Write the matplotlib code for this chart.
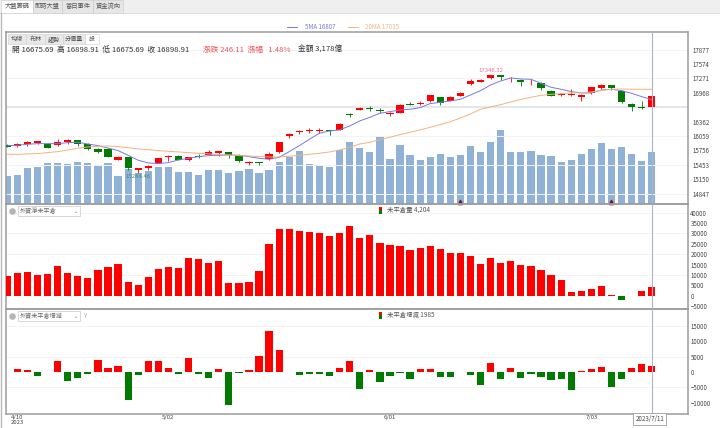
import matplotlib
matplotlib.use("Agg")
import matplotlib.pyplot as plt
from matplotlib.patches import Rectangle

plt.rcParams['font.family'] = ['Noto Sans CJK TC', 'DejaVu Sans']

opens = [15872,15858,15893,15921,15900,15872,15935,15971,15886,15788,15788,15564,15613,15353,15395,15494,15613,15641,15564,15641,15669,15711,15718,15669,15494,15508,15571,15718,16062,16146,16167,16174,16188,16188,16518,16616,16658,16616,16518,16546,16742,16728,16791,16875,16798,16910,17149,17205,17275,17338,17254,17240,17191,17177,17015,16924,16931,16889,16966,17072,17128,17015,16742,16672,16675.69]
closes = [15837,15886,15928,15949,15816,15942,15971,15893,15795,15725,15620,15627,15395,15381,15430,15592,15641,15564,15613,15627,15718,15739,15662,15529,15515,15487,15676,15935,16111,16174,16188,16195,16167,16307,16504,16658,16637,16595,16539,16707,16721,16763,16917,16756,16889,16959,17219,17247,17338,17303,17268,17205,17205,17072,16903,16945,16952,16924,17086,17142,17072,16770,16679,16658,16898.91]
highs = [15886,15921,15949,15964,15907,15992,15992,15978,15921,15802,15802,15641,15627,15395,15451,15599,15662,15655,15627,15683,15760,15753,15725,15683,15543,15515,15718,15942,16132,16188,16223,16237,16195,16328,16553,16679,16686,16644,16567,16742,16777,16791,16924,16889,16903,16994,17268,17268,17346.32,17344,17310,17254,17254,17198,17029,16966,17058,16945,17100,17163,17142,17029,16756,16791,16898.91]
lows = [15823,15837,15851,15886,15809,15858,15900,15858,15767,15697,15613,15550,15346,15284.46,15339,15487,15536,15550,15529,15592,15655,15641,15606,15515,15445,15445,15557,15711,16020,16104,16132,16132,16083,16181,16454,16609,16595,16539,16475,16539,16707,16707,16784,16707,16791,16903,17135,17191,17261,17240,17205,17121,17142,17022,16896,16903,16910,16798,16945,17044,17029,16756,16595,16637,16675.69]
ma5 = [15858,15865,15886,15900,15900,15900,15921,15928,15893,15858,15809,15753,15655,15550,15494,15480,15501,15557,15592,15627,15648,15655,15662,15655,15627,15592,15571,15613,15732,15858,15992,16118,16167,16188,16272,16377,16454,16539,16574,16609,16623,16658,16742,16770,16798,16833,16924,17015,17135,17219,17282,17261,17254,17170,17086,17044,16994,16966,16966,17029,17044,17015,16959,16889,16826]
ma20 = [15676,15676,15683,15690,15711,15732,15767,15802,15830,15844,15851,15837,15816,15788,15774,15753,15739,15725,15711,15697,15683,15669,15662,15648,15641,15627,15620,15620,15634,15655,15676,15697,15725,15767,15823,15893,15928,15985,16034,16090,16139,16188,16244,16300,16363,16440,16525,16623,16672,16721,16777,16833,16875,16917,16938,16952,16966,16973,16987,17022,17044,17051,17044,17044,17044]
volume = [1748,1790,2201,2304,2551,2530,2468,2571,2530,2324,2530,1748,2160,1913,2016,2304,2304,1995,1995,1810,2119,2098,1934,2016,2180,1892,2119,2612,2900,3271,2468,2386,2263,3353,3826,3435,3178,4217,2777,3661,3003,2736,2921,3065,2880,3003,3559,3229,3826,4567,3229,3209,3271,3003,2983,2612,2715,3086,3415,3785,3394,3538,3065,2674,3178]
open_interest = [9698,10980,11461,10179,10500,14187,11141,9378,8576,12584,13706,15469,6492,5370,9057,12744,13866,13545,18194,17553,15790,16912,6172,6172,6492,11782,25087,32140,32140,31339,30697,30217,28774,30056,33583,27972,29094,25568,24446,24125,22041,23003,23965,22362,20759,20438,19316,15309,18194,15790,16912,14988,14347,12584,10019,7614,2004,2485,3286,4889,401,-1843,-240,2324,4204]
oi_change = [-150,980,762,-1307,20,3594,-2940,-1851,-762,3920,1198,1960,-9148,-980,3594,3485,1307,-545,4683,-545,-1960,1089,-10672,-218,545,5227,13395,7079,-109,-871,-545,-545,-1307,1307,3485,-5445,762,-3376,-1198,-218,-2178,980,871,-1525,-1634,-109,-980,-4247,2940,-2396,1307,-1960,-653,-1634,-2505,-2287,-5772,436,871,1634,-4792,-2178,1416,2505,1985]
price_ticks = [17877,17574,17271,16968,16362,16059,15756,15453,15150,14847]
price_grid = [17877,17271,16059,15453,14847]
oi_ticks = [40000,35000,30000,25000,20000,15000,10000,5000,0,-5000]
chg_ticks = [15000,10000,5000,0,-5000,-10000]
date_idx = [1,16,38,58]
date_labels = ["4/10\n2023","5/02","6/01","7/03"]
signal_idx = [45,60]
tabs = ["大盤籌碼","即時大盤","當日事件","資金流向"]
subtabs = ["均線","布林","趨勢","分價量","設"]

W, H = 720, 428
RED, GREEN, BLUE = "#ff0000", "#007a00", "#8fb2d6"
FRAME, GRID, TXT = "#9c9c9c", "#f3f3f3", "#444444"
fig = plt.figure(figsize=(W/100, H/100), dpi=100, facecolor="white")

def mkax(top, bottom, pad, z=1):
    a = fig.add_axes([6.5/W, 1-bottom/H, (688-6.5)/W, (bottom-top)/H], zorder=z)
    a.set_xlim(-0.08, 67.6)
    a.set_facecolor("none")
    for s in a.spines.values():
        s.set_color(FRAME); s.set_linewidth(1.1)
    a.tick_params(length=0, labelsize=4.4, labelcolor=TXT, pad=pad, right=False, left=False,
                  labelright=True, labelleft=False)
    a.set_xticks([])
    a.set_axisbelow(True)
    return a

n = range(len(closes))
# price panel
axv = fig.add_axes([6.5/W, 1-204/H, (688-6.5)/W, 172/H], zorder=1)
axv.set_xlim(-0.08, 67.6); axv.set_ylim(0, 10600); axv.axis("off")
axv.bar(n, volume, width=0.72, color=BLUE)
axv.scatter(signal_idx, [150, 150], marker="^", s=9, color="#7a1030", zorder=3, clip_on=False)

ax = mkax(32, 204, 3.2, 2)
ax.set_ylim(14630, 18249)
ax.set_yticks(price_ticks)
for g in price_grid:
    ax.axhline(g, color=GRID, lw=0.7, zorder=0)
ax.axhline(closes[-1] - 228, color="#e4e7ee", lw=1.5, zorder=0)
for i in n:
    c = RED if closes[i] >= opens[i] else GREEN
    ax.vlines(i, lows[i], highs[i], color=c, lw=0.6, zorder=3)
    b = min(opens[i], closes[i])
    ax.bar(i, max(abs(closes[i]-opens[i]), 8), bottom=b, width=0.72, color=c, zorder=4)
ax.plot(n, ma5, color="#7878e6", lw=0.7, zorder=5)
ax.plot(n, ma20, color="#f2b27c", lw=0.7, zorder=5)
ax.text(13, 15284.46-20, "15284.46", color="#3f8f5f", fontsize=4.3, ha="center", va="top", zorder=6)
ax.text(48, 17346.32+45, "17346.32", color="#f06aa8", fontsize=4.3, ha="center", va="bottom", zorder=6)
ax.axvline(64, color="#a9b6cc", lw=0.8, zorder=6)

# open interest panel
ax2 = mkax(204, 308.5, 1.7, 2)
ax2.set_ylim(-6154, 44090)
ax2.set_yticks(oi_ticks)
for g in [40000,30000,20000,10000]:
    ax2.axhline(g, color=GRID, lw=0.7, zorder=0)
ax2.bar(n, open_interest, width=0.72, color=[RED if v >= 0 else GREEN for v in open_interest], zorder=3)
ax2.axvline(64, color="#a9b6cc", lw=0.8, zorder=6)

# change panel
ax3 = mkax(309, 413.5, 1.7, 2)
ax3.set_ylim(-13558, 20582)
ax3.set_yticks(chg_ticks)
for g in [15000,5000,-5000]:
    ax3.axhline(g, color=GRID, lw=0.7, zorder=0)
ax3.bar(n, oi_change, width=0.72, color=[RED if v >= 0 else GREEN for v in oi_change], zorder=3)
ax3.axvline(64, color="#a9b6cc", lw=0.8, zorder=6)
ax3.set_xticks(date_idx)
ax3.set_xticklabels(date_labels, fontsize=4.3, color=TXT, linespacing=0.95)
ax3.tick_params(axis="x", length=0, pad=1.2, labelbottom=True)
for lab in ax3.get_xticklabels():
    lab.set_verticalalignment("top")
ax3.annotate("2023/7/11", xy=(64, 0), xycoords=("data", "axes fraction"), xytext=(-1.5, -4),
             textcoords="offset points", ha="center", va="center", fontsize=4.4, color=TXT, zorder=9,
             annotation_clip=False,
             bbox=dict(boxstyle="square,pad=0.3", fc="white", ec="#aaaaaa", lw=0.7))

# page chrome in pixel space
ui = fig.add_axes([0, 0, 1, 1], zorder=5)
ui.set_xlim(0, W); ui.set_ylim(H, 0); ui.axis("off"); ui.patch.set_alpha(0)
ui.add_patch(Rectangle((0, 0), W, 12.5, fc="#efefef", ec="none"))
ui.plot([0, W], [12.8, 12.8], color="#d8d8d8", lw=0.6)
ui.plot([1, 1], [12.8, H], color="#b8b8b8", lw=1.0)
tx = [1, 33, 62, 93, 123]
for k, t in enumerate(tabs):
    ui.add_patch(Rectangle((tx[k], 0), tx[k+1]-tx[k]-0.5, 12.5, fc="white" if k == 0 else "#e6e6e6",
                           ec="#c8c8c8", lw=0.4))
    ui.text((tx[k]+tx[k+1])/2, 6, t, fontsize=4.5, color="#555555", ha="center", va="center")
sx = [8, 26, 45, 63, 85, 99]
for k, t in enumerate(subtabs):
    ui.add_patch(Rectangle((sx[k], 34), sx[k+1]-sx[k]-0.5, 10, fc="white" if k == 4 else "#e8e8e8",
                           ec="#cfcfcf", lw=0.4))
    ui.text((sx[k]+sx[k+1])/2, 39, t, fontsize=4.4, color="#555555", ha="center", va="center")
ui.text(11.5, 50, "開 16675.69  高 16898.91  低 16675.69  收 16898.91", fontsize=5.55, color="#333333", va="center")
ui.text(203, 50, "漲跌 246.11  漲幅   1.48%", fontsize=5.55, color="#ee5555", va="center")
ui.text(297.5, 50, "金額 3,178億", fontsize=5.55, color="#333333", va="center")
ui.plot([287, 297], [26.5, 26.5], color="#7878e6", lw=0.7)
ui.text(305, 26.5, "5MA 16807", fontsize=4.4, color="#7878e6", va="center")
ui.plot([348, 358], [26.5, 26.5], color="#f2b27c", lw=0.7)
ui.text(365, 26.5, "20MA 17035", fontsize=4.4, color="#f2b27c", va="center")
for y, lab in [(211, "外資淨未平倉"), (316, "外資未平倉增減")]:
    ui.scatter([12], [y], s=14, color="#b5b5b5", zorder=3)
    ui.add_patch(Rectangle((17.5, y-5), 62, 10, fc="white", ec="#c8c8c8", lw=0.5))
    ui.text(19.5, y, lab, fontsize=4.4, color="#666666", va="center")
    ui.text(76, y, "⌄", fontsize=3.5, color="#777777", ha="center", va="center", family=["DejaVu Sans"])
ui.text(86, 316, "Y", fontsize=4.4, color="#aaaaaa", ha="center", va="center")
for y, lab in [(210, "未平倉量 4,204"), (315, "未平倉增減 1985")]:
    ui.add_patch(Rectangle((379.3, y-3.5), 3, 3.5, fc=RED, ec="none"))
    ui.add_patch(Rectangle((379.3, y), 3, 3.5, fc=GREEN, ec="none"))
    ui.text(387, y, lab, fontsize=4.6, color="#555555", va="center")

fig.savefig("out.png", dpi=100)
